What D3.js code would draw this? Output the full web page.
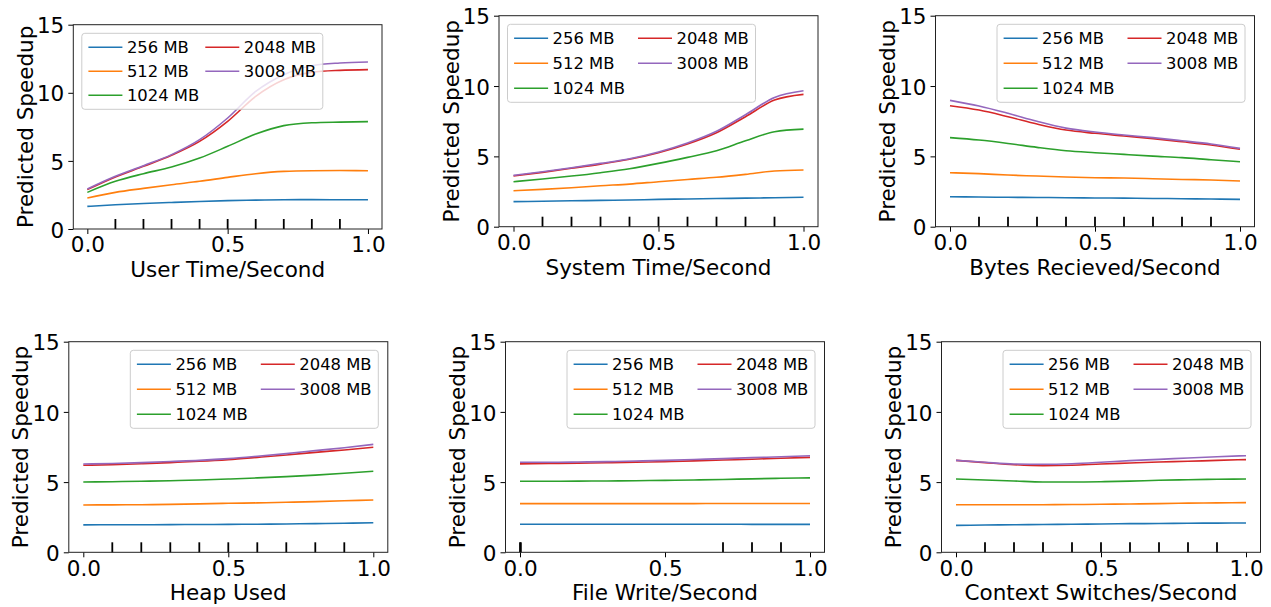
<!DOCTYPE html>
<html>
<head>
<meta charset="utf-8">
<script src="https://cdn.jsdelivr.net/npm/d3@7"></script>
<style>
  html, body { margin: 0; padding: 0; background: #fff; }
  svg { display: block; font-family: "DejaVu Sans", sans-serif; }
</style>
</head>
<body>
<svg id="chart" width="1271" height="607"></svg>
<script>
// Sample positions along each normalised feature axis
const xs = [0, 0.1, 0.2, 0.3, 0.4, 0.5, 0.6, 0.7, 0.8, 0.9, 1.0];

// Memory configurations (one curve each)
const memorySizes = ["256 MB", "512 MB", "1024 MB", "2048 MB", "3008 MB"];
const memoryColors = ["#1f77b4", "#ff7f0e", "#2ca02c", "#d62728", "#9467bd"];

// Predicted speedup per memory size, sampled at xs
const userTimeSpeedup = [
  [1.66, 1.78, 1.87, 1.95, 2.02, 2.08, 2.12, 2.15, 2.16, 2.15, 2.15],
  [2.28, 2.69, 2.98, 3.25, 3.50, 3.79, 4.06, 4.23, 4.28, 4.29, 4.28],
  [2.69, 3.50, 4.06, 4.55, 5.21, 6.07, 6.97, 7.59, 7.80, 7.85, 7.88],
  [2.89, 3.82, 4.60, 5.41, 6.43, 7.90, 9.74, 10.96, 11.50, 11.65, 11.70],
  [2.94, 3.87, 4.65, 5.46, 6.56, 8.15, 10.10, 11.33, 11.99, 12.19, 12.26]
];
const systemTimeSpeedup = [
  [1.78, 1.81, 1.84, 1.87, 1.90, 1.94, 1.97, 2.00, 2.03, 2.06, 2.09],
  [2.56, 2.65, 2.77, 2.91, 3.03, 3.20, 3.36, 3.51, 3.72, 3.96, 4.03],
  [3.20, 3.39, 3.60, 3.84, 4.12, 4.50, 4.93, 5.40, 6.11, 6.75, 6.94],
  [3.60, 3.86, 4.15, 4.45, 4.79, 5.26, 5.88, 6.68, 7.82, 9.00, 9.41],
  [3.65, 3.91, 4.19, 4.50, 4.83, 5.31, 5.95, 6.78, 7.96, 9.19, 9.67]
];
const bytesReceivedSpeedup = [
  [2.13, 2.11, 2.09, 2.08, 2.06, 2.04, 2.03, 2.01, 1.99, 1.97, 1.94],
  [3.84, 3.77, 3.67, 3.60, 3.53, 3.48, 3.46, 3.41, 3.36, 3.32, 3.25],
  [6.33, 6.16, 5.92, 5.64, 5.40, 5.26, 5.14, 5.02, 4.91, 4.76, 4.62],
  [8.60, 8.29, 7.82, 7.30, 6.87, 6.64, 6.45, 6.26, 6.04, 5.81, 5.50],
  [8.98, 8.58, 8.06, 7.49, 7.01, 6.73, 6.52, 6.33, 6.11, 5.88, 5.57]
];
const heapUsedSpeedup = [
  [1.95, 1.96, 1.96, 1.97, 1.98, 1.99, 2.00, 2.02, 2.04, 2.07, 2.11],
  [3.37, 3.38, 3.39, 3.41, 3.45, 3.49, 3.52, 3.56, 3.61, 3.67, 3.73],
  [5.01, 5.03, 5.06, 5.10, 5.15, 5.22, 5.30, 5.39, 5.50, 5.63, 5.77],
  [6.20, 6.24, 6.31, 6.39, 6.48, 6.60, 6.76, 6.93, 7.12, 7.29, 7.48],
  [6.29, 6.33, 6.39, 6.47, 6.55, 6.67, 6.84, 7.03, 7.24, 7.45, 7.69]
];
const fileWriteSpeedup = [
  [2.00, 2.00, 2.00, 2.00, 2.00, 2.00, 2.00, 2.00, 1.99, 1.99, 1.99],
  [3.47, 3.47, 3.47, 3.47, 3.47, 3.47, 3.47, 3.48, 3.48, 3.48, 3.48],
  [5.06, 5.06, 5.07, 5.08, 5.10, 5.12, 5.15, 5.19, 5.23, 5.27, 5.30],
  [6.30, 6.32, 6.35, 6.38, 6.42, 6.46, 6.51, 6.57, 6.63, 6.70, 6.76],
  [6.41, 6.41, 6.43, 6.46, 6.50, 6.55, 6.61, 6.67, 6.74, 6.81, 6.88]
];
const contextSwitchSpeedup = [
  [1.92, 1.94, 1.96, 1.98, 2.00, 2.02, 2.04, 2.05, 2.07, 2.08, 2.09],
  [3.39, 3.39, 3.39, 3.39, 3.40, 3.42, 3.44, 3.47, 3.50, 3.52, 3.54],
  [5.22, 5.15, 5.08, 5.01, 5.01, 5.03, 5.07, 5.13, 5.17, 5.20, 5.22],
  [6.55, 6.39, 6.24, 6.17, 6.20, 6.29, 6.36, 6.43, 6.48, 6.55, 6.60],
  [6.55, 6.41, 6.29, 6.27, 6.31, 6.41, 6.53, 6.62, 6.72, 6.81, 6.88]
];

// Observed sample locations drawn as a rug along the bottom
const rugDefault = [0.1, 0.2, 0.3, 0.4, 0.5, 0.6, 0.7, 0.8, 0.9];
const rugFileWrite = [0.0, 0.003, 0.7, 0.8, 0.9];

// Axis ticks
const xTickValues = [0.0, 0.5, 1.0];
const yTickValues = [0, 5, 10, 15];

// Panel definitions: feature label, series, rug, legend corner and size, plot box
const panels = [
  { label: "User Time/Second", series: userTimeSpeedup, rug: rugDefault, legend: "left",
    legendSize: [241, 76], box: { left: 73.3, right: 382, top: 24.7, bottom: 229 } },
  { label: "System Time/Second", series: systemTimeSpeedup, rug: rugDefault, legend: "left",
    legendSize: [248, 78], box: { left: 499, right: 818, top: 15.7, bottom: 226.7 } },
  { label: "Bytes Recieved/Second", series: bytesReceivedSpeedup, rug: rugDefault, legend: "right",
    legendSize: [248, 78], box: { left: 935.5, right: 1254.5, top: 15.7, bottom: 226.7 } },
  { label: "Heap Used", series: heapUsedSpeedup, rug: rugDefault, legend: "right",
    legendSize: [248, 78], box: { left: 68.8, right: 387.8, top: 341.7, bottom: 552.3 } },
  { label: "File Write/Second", series: fileWriteSpeedup, rug: rugFileWrite, legend: "right",
    legendSize: [248, 78], box: { left: 505.5, right: 824.5, top: 341.7, bottom: 552.3 } },
  { label: "Context Switches/Second", series: contextSwitchSpeedup, rug: rugDefault, legend: "right",
    legendSize: [248, 78], box: { left: 941.5, right: 1260.5, top: 341.7, bottom: 552.3 } }
];

const svg = d3.select("#chart");
const tickFont = 21.5;
const legendFont = 16.4;

panels.forEach(p => {
  const b = p.box;
  const x = d3.scaleLinear().domain([-0.05, 1.05]).range([b.left, b.right]);
  const y = d3.scaleLinear().domain([0, 15]).range([b.bottom, b.top]);
  const g = svg.append("g");

  // Curves
  const line = d3.line()
    .x((d, i) => x(xs[i]))
    .y(d => y(d))
    .curve(d3.curveMonotoneX);
  p.series.forEach((vals, k) => {
    g.append("path")
      .datum(vals)
      .attr("d", line)
      .attr("fill", "none")
      .attr("stroke", memoryColors[k])
      .attr("stroke-width", 1.6);
  });

  // Rug marks
  g.selectAll(".rug")
    .data(p.rug)
    .join("line")
    .attr("x1", d => x(d)).attr("x2", d => x(d))
    .attr("y1", b.bottom).attr("y2", b.bottom - 10)
    .attr("stroke", "#000")
    .attr("stroke-width", 1.8);

  // Axes
  const xAxis = d3.axisBottom(x).tickValues(xTickValues).tickFormat(d3.format(".1f"))
    .tickSize(5).tickPadding(4);
  const yAxis = d3.axisLeft(y).tickValues(yTickValues).tickFormat(d3.format("d"))
    .tickSize(5).tickPadding(4);

  const gx = g.append("g").attr("transform", `translate(0,${b.bottom})`).call(xAxis);
  const gy = g.append("g").attr("transform", `translate(${b.left},0)`).call(yAxis);
  [gx, gy].forEach(a => {
    a.select(".domain").remove();
    a.selectAll(".tick line").attr("stroke", "#000").attr("stroke-width", 1);
    a.selectAll(".tick text")
      .attr("fill", "#000")
      .style("font-family", "DejaVu Sans")
      .style("font-size", tickFont + "px");
  });
  gx.selectAll(".tick text").attr("dy", null).attr("y", 23.3);
  gy.selectAll(".tick text").attr("dy", "0.38em");

  // Frame
  g.append("rect")
    .attr("x", b.left).attr("y", b.top)
    .attr("width", b.right - b.left).attr("height", b.bottom - b.top)
    .attr("fill", "none")
    .attr("stroke", "#222")
    .attr("stroke-width", 1);

  // Axis titles
  g.append("text")
    .attr("x", (b.left + b.right) / 2)
    .attr("y", b.bottom + 48)
    .attr("text-anchor", "middle")
    .style("font-size", tickFont + "px")
    .text(p.label);
  g.append("text")
    .attr("transform", `translate(${b.left - 40.5},${(b.top + b.bottom) / 2}) rotate(-90)`)
    .attr("text-anchor", "middle")
    .style("font-size", tickFont + "px")
    .text("Predicted Speedup");

  // Legend (two columns, drawn over the curves with a translucent fill)
  const [lw, lh] = p.legendSize;
  const lx = p.legend === "left" ? b.left + 8.5 : b.right - 9.5 - lw;
  const ly = b.top + 8.6;
  const rowGap = (lh - 28) / 2;
  const col2 = lw - 117.5;
  const lg = g.append("g").attr("transform", `translate(${lx},${ly})`);
  lg.append("rect")
    .attr("width", lw).attr("height", lh)
    .attr("rx", 3).attr("ry", 3)
    .attr("fill", "rgba(255,255,255,0.8)")
    .attr("stroke", "#cccccc")
    .attr("stroke-width", 1);
  memorySizes.forEach((name, k) => {
    const col = k < 3 ? 0 : 1;
    const row = k < 3 ? k : k - 3;
    const ox = col === 0 ? 6.6 : col2;
    const oy = 14 + row * rowGap;
    lg.append("line")
      .attr("x1", ox).attr("x2", ox + 34)
      .attr("y1", oy).attr("y2", oy)
      .attr("stroke", memoryColors[k])
      .attr("stroke-width", 1.5);
    lg.append("text")
      .attr("x", ox + 38.5)
      .attr("y", oy)
      .attr("dy", "0.36em")
      .style("font-size", legendFont + "px")
      .text(name);
  });
});
</script>
</body>
</html>
